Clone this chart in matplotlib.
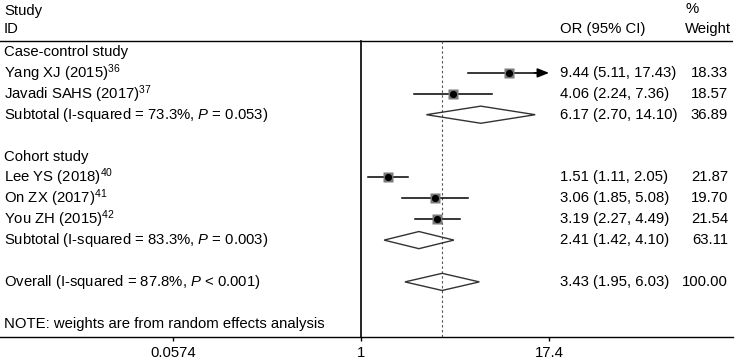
import matplotlib
matplotlib.use("Agg")
import matplotlib.pyplot as plt
import numpy as np
from matplotlib.patches import Polygon

plt.rcParams['font.family'] = ['Liberation Sans', 'DejaVu Sans']
plt.rcParams['mathtext.fontset'] = 'custom'
plt.rcParams['mathtext.rm'] = 'Liberation Sans'
plt.rcParams['mathtext.it'] = 'Liberation Sans:italic'

# ---- data ----
labels = ["Case-control study",
          "Yang XJ (2015)$^{36}$",
          "Javadi SAHS (2017)$^{37}$",
          "Subtotal (I-squared = 73.3%, $P$ = 0.053)",
          "",
          "Cohort study",
          "Lee YS (2018)$^{40}$",
          "On ZX (2017)$^{41}$",
          "You ZH (2015)$^{42}$",
          "Subtotal (I-squared = 83.3%, $P$ = 0.003)",
          "",
          "Overall (I-squared = 87.8%, $P$ < 0.001)",
          "",
          "NOTE: weights are from random effects analysis"]
row_type = ["head", "study", "study", "pooled", "", "head", "study", "study", "study",
            "pooled", "", "pooled", "", "note"]
or_est = [None, 9.44, 4.06, 6.17, None, None, 1.51, 3.06, 3.19, 2.41, None, 3.43, None, None]
ci_lo = [None, 5.11, 2.24, 2.70, None, None, 1.11, 1.85, 2.27, 1.42, None, 1.95, None, None]
ci_hi = [None, 17.43, 7.36, 14.10, None, None, 2.05, 5.08, 4.49, 4.10, None, 6.03, None, None]
weights = [None, 18.33, 18.57, 36.89, None, None, 21.87, 19.70, 21.54, 63.11, None, 100.00, None, None]
xticks = [0.0574, 1, 17.4]
xtick_labels = ["0.0574", "1", "17.4"]
axis_max = 17.4
overall = 3.43

W, H = 735, 360
fig = plt.figure(figsize=(W / 100, H / 100), dpi=100)
ax_bottom_px = 336.5
ax = fig.add_axes([0, (H - ax_bottom_px) / H, 733 / W, ax_bottom_px / H])
ax.set_xscale('log')
ppd = 151.6
x1 = 361
ax.set_xlim(10 ** (-x1 / ppd), 10 ** ((733 - x1) / ppd))
rs = 20.9
r0 = 52
ax.set_ylim((ax_bottom_px - r0) / rs, -r0 / rs)

fs = 10.7
for s in ['left', 'right', 'top']:
    ax.spines[s].set_visible(False)
ax.spines['bottom'].set_linewidth(1.0)
ax.set_yticks([])
ax.set_xticks(xticks)
ax.set_xticklabels(xtick_labels, fontsize=fs)
ax.minorticks_off()
ax.tick_params(axis='x', length=3, width=1, pad=3.5)

header_r = (40.7 - r0) / rs
ax.axhline(header_r, color='black', lw=1.0)
ybot = (ax_bottom_px - r0) / rs
ax.plot([1, 1], [header_r, ybot], color='black', lw=1.2)
ax.plot([overall, overall], [header_r, ybot], color='#555555', lw=0.8, ls=(0, (2.2, 2.2)))

xf = lambda px: px / 733
tr = ax.get_yaxis_transform()
# headers
ax.text(xf(4), (11 - r0) / rs, "Study", transform=tr, fontsize=fs, va='center', ha='left')
ax.text(xf(4), (29 - r0) / rs, "ID", transform=tr, fontsize=fs, va='center', ha='left')
ax.text(xf(560), (29 - r0) / rs, "OR (95% CI)", transform=tr, fontsize=fs, va='center', ha='left')
ax.text(xf(685), (9 - r0) / rs, "%", transform=tr, fontsize=fs, va='center', ha='left')
ax.text(xf(685), (29 - r0) / rs, "Weight", transform=tr, fontsize=fs, va='center', ha='left')

h = 0.41
for i, lab in enumerate(labels):
    if lab:
        ax.text(xf(4), i, lab, transform=tr, fontsize=fs, va='center', ha='left')
    t = row_type[i]
    if t in ("study", "pooled"):
        est, lo, hi, w = or_est[i], ci_lo[i], ci_hi[i], weights[i]
        ax.text(xf(560), i, f"{est:.2f} ({lo:.2f}, {hi:.2f})", transform=tr,
                fontsize=fs, va='center', ha='left')
        ax.text(xf(728), i, f"{w:.2f}", transform=tr,
                fontsize=fs, va='center', ha='right')
    if t == "study":
        if hi > axis_max:
            ax.plot([lo, axis_max * 0.93], [i, i], color='black', lw=1.1)
            ax.annotate("", xy=(axis_max, i), xytext=(axis_max * 0.8, i),
                        arrowprops=dict(arrowstyle='-|>,head_length=0.5,head_width=0.2',
                                        color='black', lw=1.1, mutation_scale=14,
                                        shrinkA=0, shrinkB=0))
        else:
            ax.plot([lo, hi], [i, i], color='black', lw=1.1)
        ms = 7.0 * np.sqrt(w / 20.0)
        ax.plot([est], [i], marker='s', ms=ms, color='#7a7a7a', mec='none', zorder=3)
        ax.plot([est], [i], marker='o', ms=5.2, color='black', mec='none', zorder=4)
    elif t == "pooled":
        poly = Polygon([(lo, i), (est, i - h), (hi, i), (est, i + h)], closed=True,
                       fill=False, edgecolor='#333333', lw=1.0, zorder=3)
        ax.add_patch(poly)

fig.savefig("out.png", dpi=100)
